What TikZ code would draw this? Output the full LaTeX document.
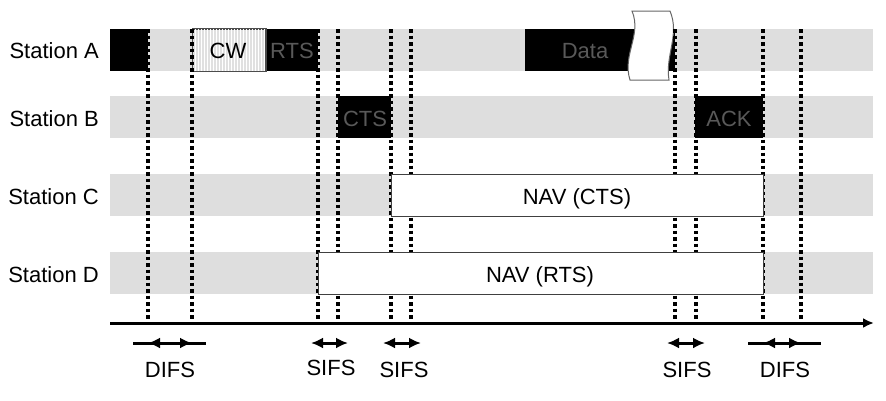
\documentclass[tikz,border=0pt]{standalone}
\usepackage{fontspec}
\setmainfont{Liberation Sans}
\usetikzlibrary{arrows.meta}
\usetikzlibrary{patterns}

\tikzset{
	band/.style={fill=black!13, draw=none},
	blk/.style={fill=black, draw=none, inner sep=0pt, outer sep=0pt, minimum height=42pt, text=black!65},
	nav/.style={fill=white, draw=black!75, line width=1pt, inner sep=0pt, outer sep=0pt, minimum height=42pt},
	slot/.style={line width=3.5pt, dash pattern=on 3.5pt off 3pt},
	span/.style={line width=3pt, {Latex[length=12pt,width=11pt]}-{Latex[length=12pt,width=11pt]}},
}

\begin{document}
\begin{tikzpicture}[x=1pt, y=-1pt, font=\fontsize{22}{26}\selectfont]
	\useasboundingbox (0,0) rectangle (886,400);

	% draw station rows
	\foreach \name/\yc in {A/51, B/119, C/197, D/275} {
		\node[anchor=east, inner sep=0pt] (lab\name) at (99,\yc) {Station \name};
	}
	\foreach \yc in {50, 117, 195, 273} {
		\fill[band] (110,\yc-21) rectangle (873,\yc+21);
	}

	% draw frames
	\node[blk, minimum width=38pt, anchor=west] (busy) at (110,50) {};
	\node[blk, minimum width=53pt, anchor=west] (rts) at (265,50) {};
	\node[text=black!65] (rtslab) at (292,51) {RTS};
	\node[blk, minimum width=150pt, anchor=west] (data) at (525,50) {};
	\node[text=black!65] (datalab) at (585,51) {Data};
	\node[blk, minimum width=53pt, anchor=west] (cts) at (338,117) {};
	\node[text=black!65] (ctslab) at (365,119) {CTS};
	\node[blk, minimum width=68pt, anchor=west] (ack) at (695,117) {};
	\node[text=black!65] (acklab) at (729,119) {ACK};

	% draw contention window
	\node[fill=black!12, draw=black!70, line width=1pt, inner sep=0pt, minimum width=73pt, minimum height=42pt, anchor=west] (cw) at (192,50) {};
	\fill[pattern=vertical lines, pattern color=white] (cw.south west) rectangle (cw.north east);
	\draw[black!70, line width=1pt] (cw.south west) rectangle (cw.north east);
	\node (cwlab) at (228,51) {CW};

	% draw break in data frame
	\filldraw[fill=white, draw=black!60, line width=1pt]
		(632,11) -- (670,11)
		.. controls (680,35) and (665,55) .. (669,80)
		-- (630,80)
		.. controls (622,55) and (642,35) .. cycle;

	% draw slot boundaries
	\foreach \x in {148,192,318,338,391,411,675,696,763,801} {
		\draw[slot] (\x,29) -- (\x,320);
	}

	% draw NAV boxes
	\node[nav, minimum width=372pt, anchor=west] (navcts) at (391,195) {};
	\node (navctslab) at (577,199) {NAV (CTS)};
	\node[nav, minimum width=445pt, anchor=west] (navrts) at (318,273) {};
	\node (navrtslab) at (540,277) {NAV (RTS)};

	% draw time axis
	\coordinate (t0) at (110,323);
	\coordinate (t1) at (874,323);
	\draw[line width=3pt, -{Latex[length=11pt,width=10pt]}] (t0) -- (t1);

	% draw interframe spaces
	\draw[line width=3pt] (133,343) -- (206,343);
	\draw[span] (148,343) -- (192,343);
	\node (difsA) at (170,370) {DIFS};
	\draw[span] (311,343) -- (348,343);
	\node (sifsA) at (331,368) {SIFS};
	\draw[span] (383,343) -- (421,343);
	\node (sifsB) at (404,370) {SIFS};
	\draw[span] (667,343) -- (705,343);
	\node (sifsC) at (687,370) {SIFS};
	\draw[line width=3pt] (748,343) -- (821,343);
	\draw[span] (763,343) -- (801,343);
	\node (difsB) at (785,370) {DIFS};
\end{tikzpicture}
\end{document}
